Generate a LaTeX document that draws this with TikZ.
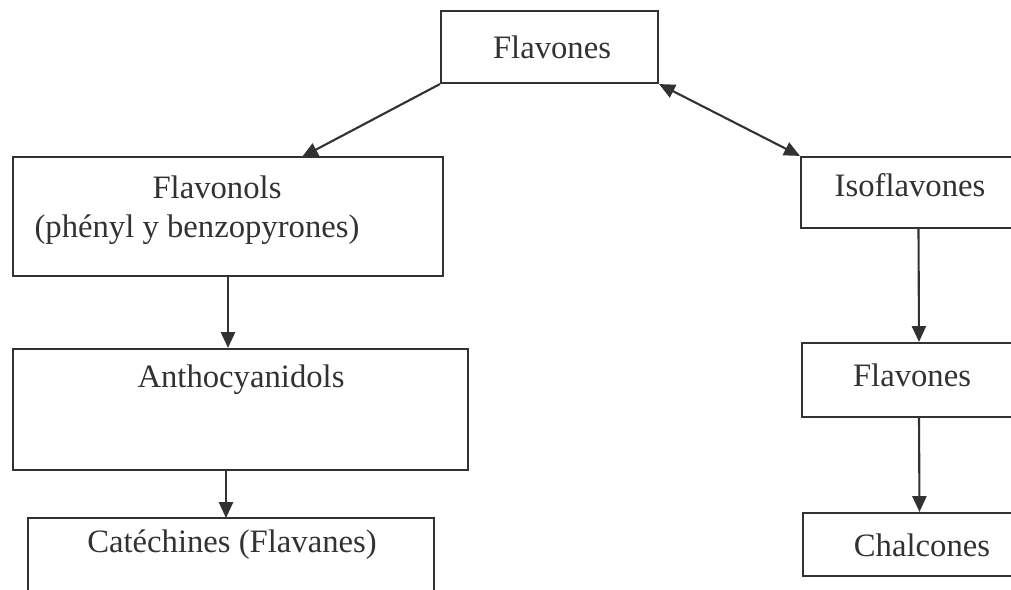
\documentclass[tikz,border=0pt]{standalone}
\usepackage{fontspec}
\setmainfont{Liberation Serif}
\usetikzlibrary{fit,arrows.meta}
\definecolor{inkgray}{RGB}{50,50,50}
\tikzset{
  box/.style={draw=inkgray,line width=1.2pt,inner sep=0pt},
  lbl/.style={text=inkgray,font=\fontsize{18.6}{22}\selectfont,inner sep=0pt},
  link/.style={draw=inkgray,line width=1.2pt,-{Triangle[length=9pt,width=8pt]}},
}
\begin{document}
\begin{tikzpicture}[x=0.02cm,y=-0.02cm]
        \clip (0,0) rectangle (1011,589);
        % boxes: name/left/top/right/bottom in pixels
        \foreach \n/\a/\b/\c/\d in
            { flavtop/441/11/658/83
            , flavonols/13/157/443/276
            , antho/13/349/468/470
            , catech/28/518/434/640
            , isoflav/801/157/1036/228
            , flavright/802/343/1036/417
            , chalc/803/513/1036/576
            }
        {\node[box,fit={(\a,\b) (\c,\d)}] (\n) {};}
        % texts
        \foreach \t/\x/\y[count=\i] in
            { Flavones/552/47
            , Flavonols/217/187
            , {(phényl y benzopyrones)}/197/230
            , Anthocyanidols/241/380
            , {Catéchines (Flavanes)}/232/545
            , Isoflavones/910/185
            , Flavones/912/375
            , Chalcones/922/545
            }
        {\node[lbl] (t\i) at (\x,\y) {\t};}
        \coordinate (hit) at (302,157);
        \coordinate (drop) at (226,518);
        \draw[link] (flavtop.south west) -- (hit);
        \draw[link,{Triangle[length=9pt,width=8pt]}-{Triangle[length=9pt,width=8pt]}] (flavtop.south east) -- (isoflav.north west);
        \draw[link] (flavonols.south) -- (flavonols.south |- antho.north);
        \draw[link] (drop |- antho.south) -- (drop);
        \draw[link] (isoflav.south) -- (flavright.north);
        \draw[link] (flavright.south) -- (chalc.north);
\end{tikzpicture}
\end{document}
